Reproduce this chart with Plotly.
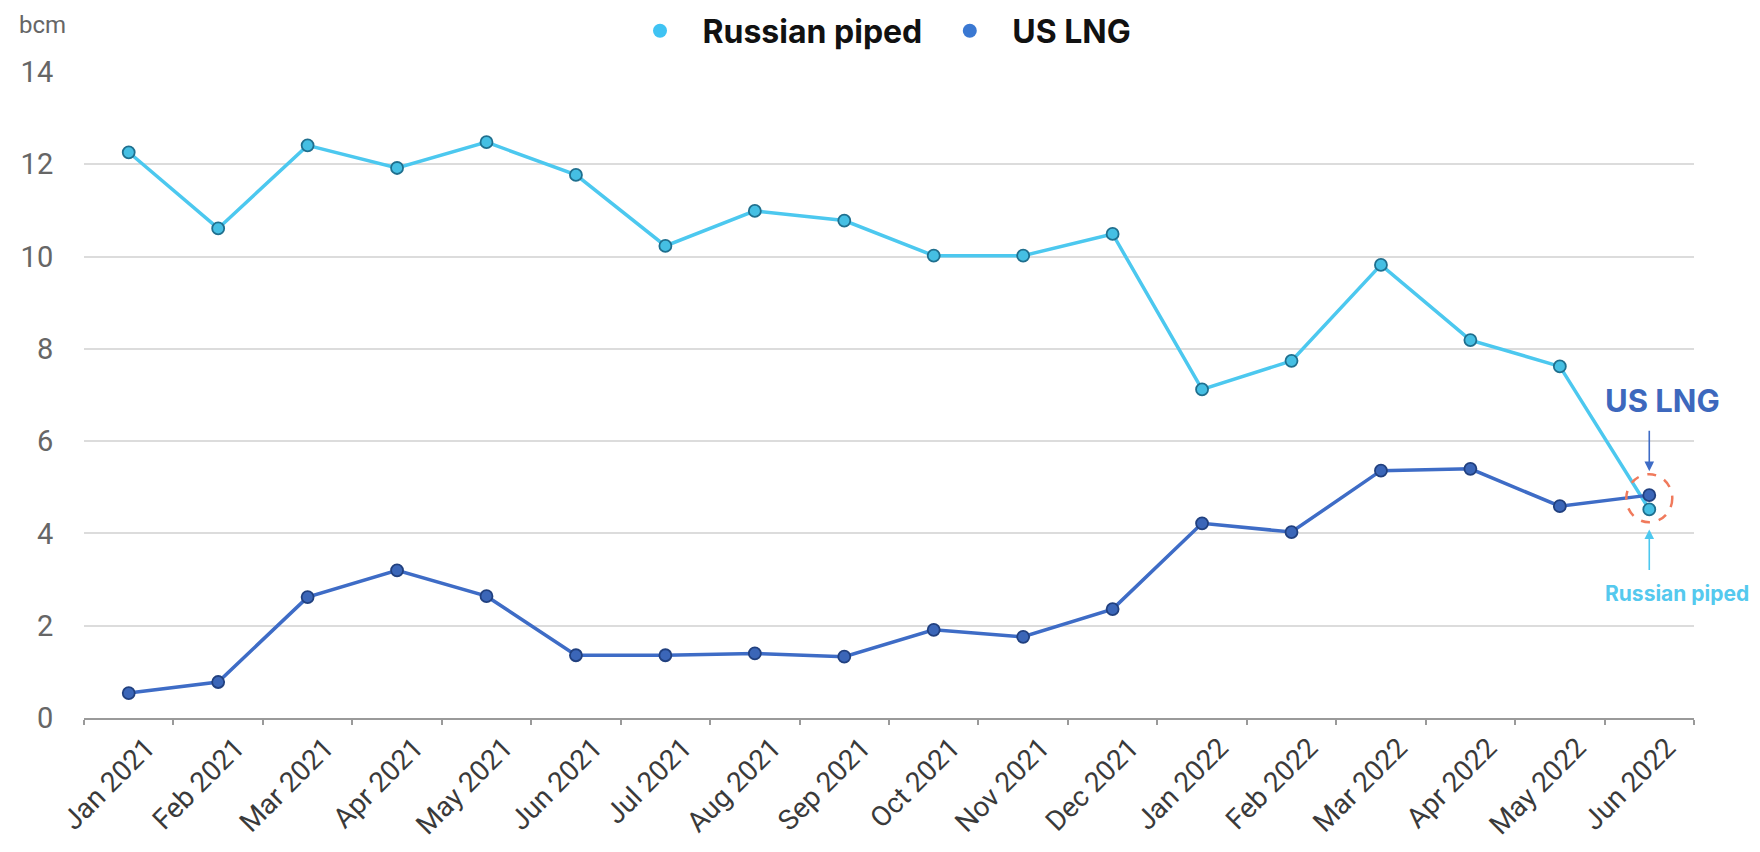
import plotly.graph_objects as go

months = ["Jan 2021", "Feb 2021", "Mar 2021", "Apr 2021", "May 2021", "Jun 2021",
          "Jul 2021", "Aug 2021", "Sep 2021", "Oct 2021", "Nov 2021", "Dec 2021",
          "Jan 2022", "Feb 2022", "Mar 2022", "Apr 2022", "May 2022", "Jun 2022"]
russian_piped = [12.26, 10.61, 12.41, 11.92, 12.48, 11.77, 10.23, 10.99, 10.78,
                 10.02, 10.02, 10.49, 7.12, 7.74, 9.82, 8.19, 7.62, 4.52]
us_lng = [0.54, 0.78, 2.62, 3.20, 2.64, 1.36, 1.36, 1.40, 1.33,
          1.91, 1.76, 2.36, 4.22, 4.03, 5.36, 5.40, 4.59, 4.83]
y_ticks = [0, 2, 4, 6, 8, 10, 12, 14]

RU_LINE = "#4cc8ef"
RU_MARK = "#45bfe3"
RU_EDGE = "#1f6f8e"
US_LINE = "#3e6cc6"
US_MARK = "#3b66b8"
US_EDGE = "#21407f"
FONT = "Roboto, Liberation Sans, Arial, sans-serif"
BOLD = "Inter, Roboto, Arial, sans-serif"

fig = go.Figure()

fig.add_trace(go.Scatter(
    x=months, y=russian_piped, mode="lines+markers", name="Russian piped",
    line=dict(color=RU_LINE, width=3.5),
    marker=dict(size=12, color=RU_MARK, line=dict(color=RU_EDGE, width=1.8)),
    showlegend=False))
fig.add_trace(go.Scatter(
    x=months, y=us_lng, mode="lines+markers", name="US LNG",
    line=dict(color=US_LINE, width=3.5),
    marker=dict(size=12, color=US_MARK, line=dict(color=US_EDGE, width=1.8)),
    showlegend=False))

# legend-only dot entries
fig.add_trace(go.Scatter(x=[None], y=[None], mode="markers", name="Russian piped",
                         marker=dict(size=14, color="#3fc3f3")))
fig.add_trace(go.Scatter(x=[None], y=[None], mode="markers", name="US LNG",
                         marker=dict(size=14, color="#3a78d2")))

last = months[-1]
mid = (russian_piped[-1] + us_lng[-1]) / 2

# dashed highlight circle around last points
fig.add_shape(type="circle", xref="x", yref="y", xsizemode="pixel", ysizemode="pixel",
              xanchor=last, yanchor=mid, x0=-23, x1=23, y0=-20, y1=28,
              line=dict(color="#f07a5c", width=2.5, dash="dash"))

# arrows
fig.add_annotation(x=last, y=us_lng[-1], ax=0, ay=-66, text="", showarrow=True,
                   arrowhead=2, arrowsize=1.2, arrowwidth=1.6, arrowcolor=US_LINE,
                   standoff=24)
fig.add_annotation(x=last, y=russian_piped[-1], ax=0, ay=62, text="", showarrow=True,
                   arrowhead=2, arrowsize=1.2, arrowwidth=1.6, arrowcolor=RU_LINE,
                   standoff=20)
fig.add_annotation(x=last, y=us_lng[-1], text="<b>US LNG</b>", showarrow=False,
                   xshift=13, yshift=95, font=dict(family=BOLD, size=31, color="#3d68bd"))
fig.add_annotation(x=last, y=russian_piped[-1], text="<b>Russian piped</b>", showarrow=False,
                   xshift=28, yshift=-84, font=dict(family=BOLD, size=21, color="#55c9ee"))

# unit label
fig.add_annotation(xref="paper", yref="paper", x=-0.0416, y=1 + (64 - 17) / 646,
                   xanchor="left", yanchor="middle", text="bcm", showarrow=False,
                   font=dict(family=FONT, size=24, color="#666666"))

fig.update_layout(
    width=1752, height=844,
    margin=dict(l=76, r=66, t=64, b=134, autoexpand=False),
    paper_bgcolor="white", plot_bgcolor="white",
    font=dict(family=FONT),
    legend=dict(orientation="h", x=0.5 - 12 / 1610, xanchor="center", xref="paper",
                y=1 - 23 / 844, yanchor="middle", yref="container",
                font=dict(family=BOLD, size=32, color="#111111", weight="bold"),
                itemwidth=75, tracegroupgap=0, bgcolor="rgba(0,0,0,0)"),
)

fig.update_xaxes(
    type="category", categoryorder="array", categoryarray=months,
    range=[-0.5, len(months) - 0.5], automargin=False,
    showgrid=False, showline=True, linecolor="#9a9a9a", linewidth=2,
    ticks="outside", tickson="boundaries", ticklen=5, tickwidth=1.5, tickcolor="#9a9a9a",
    tickangle=-45, ticklabelshift=18,
    tickfont=dict(family=FONT, size=28, color="#3a3a3a"),
    zeroline=False,
)
fig.update_yaxes(
    range=[0, 14], tickvals=y_ticks, ticktext=[str(v) for v in y_ticks],
    automargin=False,
    showgrid=True, gridcolor="#dcdcdc", gridwidth=2,
    showline=False, zeroline=False,
    ticks="outside", ticklen=24, tickcolor="rgba(0,0,0,0)",
    tickfont=dict(family=FONT, size=29, color="#666666"),
)

fig.write_html("out.html")
